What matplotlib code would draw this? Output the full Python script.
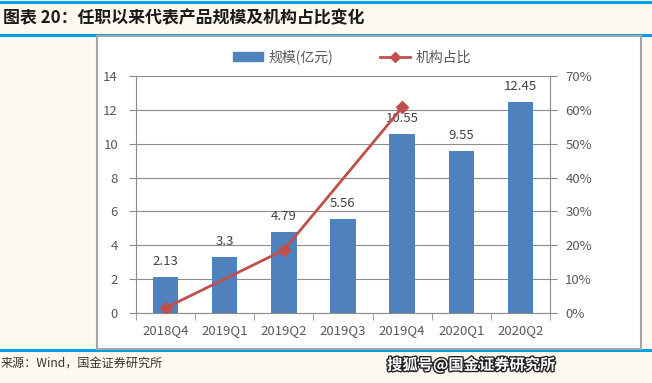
# -*- coding: utf-8 -*-
import numpy as np
import matplotlib
matplotlib.use('Agg')
import matplotlib.pyplot as plt
import matplotlib.patheffects as pe
from matplotlib.patches import Rectangle
from matplotlib.lines import Line2D

plt.rcParams['font.family'] = ['Noto Sans CJK SC', 'DejaVu Sans']

# 数据
quarters = ['2018Q4', '2019Q1', '2019Q2', '2019Q3', '2019Q4', '2020Q1', '2020Q2']
scale = [2.13, 3.3, 4.79, 5.56, 10.55, 9.55, 12.45]          # 规模(亿元)
inst_ratio = [1.5, None, 18.6, None, 60.7, None, None]       # 机构占比(%)
left_ticks = [0, 2, 4, 6, 8, 10, 12, 14]
right_ticks = [0, 10, 20, 30, 40, 50, 60, 70]

W, H = 652, 383
bg = '#FEF9EE'
blue_line = '#00A0E9'
bar_color = '#4F81BD'
line_color = '#C0504D'
txt_gray = '#595959'

fig = plt.figure(figsize=(W / 100, H / 100), dpi=100, facecolor=bg)

# 蓝色分隔线
for yy in [2, 35, 350]:
    fig.add_artist(Line2D([0, 1], [1 - yy / H, 1 - yy / H], color=blue_line, lw=2.2, zorder=-3))

# 白色图框
fig.add_artist(Rectangle((97 / W, 1 - 349 / H), (641 - 97) / W, (349 - 36) / H,
                         facecolor='white', edgecolor='#A6A6A6', lw=1.5, zorder=-2))

# 标题 / 来源
fig.text(3 / W, 1 - 18 / H, '图表 20：任职以来代表产品规模及机构占比变化',
         fontsize=12.2, fontweight='bold', color='#1a1a1a', va='center', ha='left')
fig.text(1 / W, 1 - 363 / H, '来源：Wind，国金证券研究所',
         fontsize=8.7, color='#333333', va='center', ha='left')
fig.text(555 / W, 1 - 365 / H, '搜狐号@国金证券研究所', fontsize=11, fontweight='bold',
         color='white', va='center', ha='right',
         path_effects=[pe.withStroke(linewidth=2, foreground='#222222')])

ax = fig.add_axes([136 / W, 1 - 313 / H, (550 - 136) / W, (313 - 76) / H])
ax.set_facecolor('none')
x = np.arange(len(quarters))
bars = ax.bar(x, scale, width=0.43, color=bar_color, zorder=2)
for xi, v in zip(x, scale):
    ax.text(xi, v + 0.55, f'{v:g}', ha='center', va='bottom', fontsize=9.5, color='#404040', zorder=4)

ax.set_ylim(0, 14)
ax.set_xlim(-0.5, len(quarters) - 0.5)
ax.set_yticks(left_ticks)
ax.yaxis.grid(True, color='#8C8C8C', lw=0.8, zorder=0)
ax.set_axisbelow(True)
ax.set_xticks(x)
ax.set_xticklabels(quarters)
ax.set_xticks(np.arange(-0.5, len(quarters)), minor=True)
ax.tick_params(axis='x', which='major', length=0, pad=8, labelsize=9.5, labelcolor=txt_gray)
ax.tick_params(axis='x', which='minor', length=5, color='#8C8C8C', direction='out')
ax.tick_params(axis='y', length=5, color='#8C8C8C', labelsize=9.5, labelcolor=txt_gray, pad=8)
for s in ['top', 'right']:
    ax.spines[s].set_visible(False)
for s in ['left', 'bottom']:
    ax.spines[s].set_color('#8C8C8C')
    ax.spines[s].set_linewidth(0.8)

ax2 = ax.twinx()
ratio = np.array([np.nan if r is None else r for r in inst_ratio], dtype=float)
mask = ~np.isnan(ratio)
ax2.plot(x[mask], ratio[mask], color=line_color, lw=2, marker='D', markersize=6,
         markerfacecolor=line_color, markeredgecolor=line_color, zorder=3)
ax2.set_ylim(0, 70)
ax2.set_yticks(right_ticks)
ax2.set_yticklabels([f'{t}%' for t in right_ticks])
ax2.tick_params(axis='y', length=5, color='#8C8C8C', labelsize=9.5, labelcolor=txt_gray, pad=6)
for s in ['top', 'left', 'bottom']:
    ax2.spines[s].set_visible(False)
ax2.spines['right'].set_color('#8C8C8C')
ax2.spines['right'].set_linewidth(0.8)

handles = [Rectangle((0, 0), 1, 1, color=bar_color),
           Line2D([], [], color=line_color, lw=2, marker='D', markersize=5)]
fig.legend(handles, ['规模(亿元)', '机构占比'], loc='center', bbox_to_anchor=(352 / W, 1 - 57 / H),
           ncol=2, frameon=False, fontsize=10, labelcolor=txt_gray, columnspacing=3.3,
           handlelength=2.2, handletextpad=0.4)

fig.savefig('out.png', dpi=100, facecolor=bg)
